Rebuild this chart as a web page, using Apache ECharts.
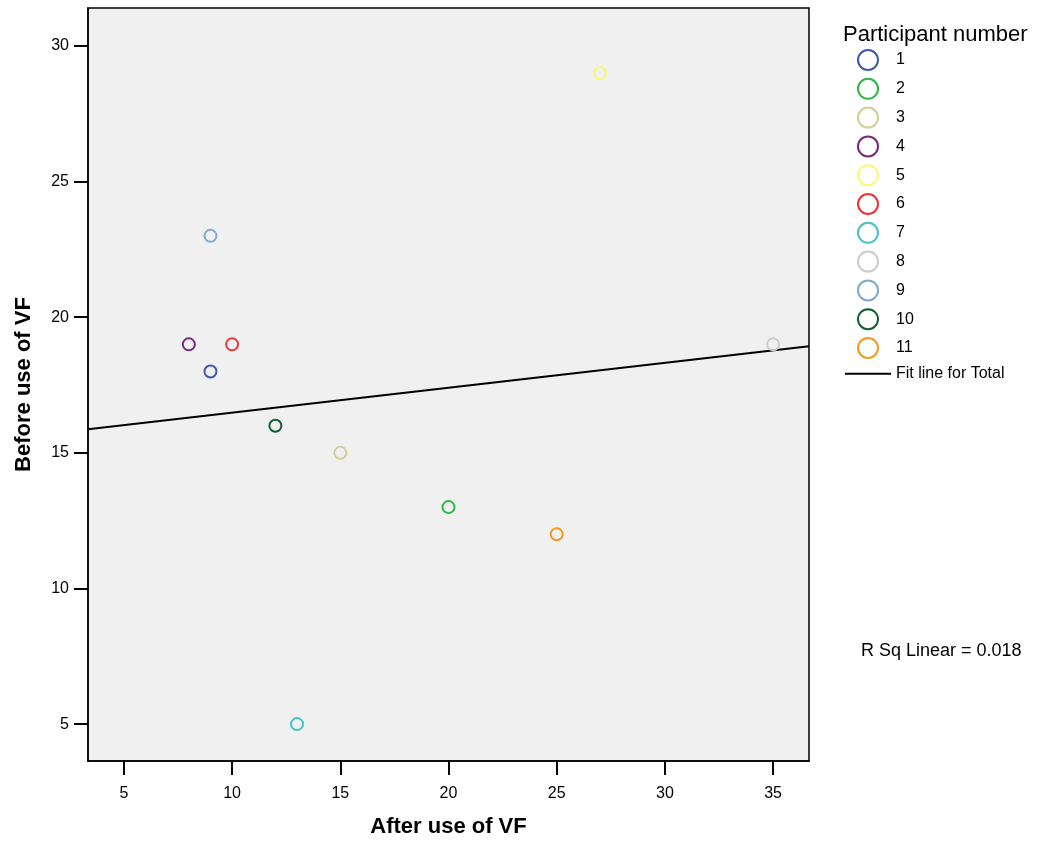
<!DOCTYPE html>
<html>
<head>
<meta charset="utf-8">
<script src="https://cdn.jsdelivr.net/npm/echarts@6/dist/echarts.min.js"></script>
<style>
	html,body{margin:0;padding:0;background:#fff;}
	#main{width:1044px;height:843px;}
</style>
</head>
<body>
<div id="main"></div>
<script type="text/javascript">
	// 数据
	var participants = ['1','2','3','4','5','6','7','8','9','10','11'];
	var after_vf = [9, 20, 15, 8, 27, 10, 13, 35, 9, 12, 25];
	var before_vf = [18, 13, 15, 19, 29, 19, 5, 19, 23, 16, 12];
	var colors = ['#3e58ac','#2eb848','#d3ce97','#7c287d','#fbf873','#ef3338','#48c2c5','#cccccc','#7baad5','#115e31','#f8981d'];
	var x_ticks = [5, 10, 15, 20, 25, 30, 35];
	var y_ticks = [5, 10, 15, 20, 25, 30];

	var x_min = 3.34, x_max = 36.66;
	var y_min = 3.64, y_max = 31.4;

	var font = 'Liberation Sans, Arial, sans-serif';

	// 线性拟合
	function fit(xs, ys){
		var n = xs.length, mx = 0, my = 0;
		xs.forEach(function(v,i){ mx += v; my += ys[i]; });
		mx /= n; my /= n;
		var sxy = 0, sxx = 0, syy = 0;
		xs.forEach(function(v,i){
			sxy += (v-mx)*(ys[i]-my);
			sxx += (v-mx)*(v-mx);
			syy += (ys[i]-my)*(ys[i]-my);
		});
		var b = sxy/sxx;
		return {a:my-b*mx, b:b, r2:sxy*sxy/(sxx*syy)};
	}
	var lin = fit(after_vf, before_vf);

	var series = [];
	participants.forEach(function(name,i){
		series.push({
			name:name,
			type:'scatter',
			symbol:'circle',
			symbolSize:12,
			data:[[after_vf[i], before_vf[i]]],
			itemStyle:{color:'transparent', borderColor:colors[i], borderWidth:2, opacity:1},
			emphasis:{disabled:true}
		});
	});
	series.push({
		name:'Fit line for Total',
		type:'line',
		symbol:'none',
		silent:true,
		data:[[x_min, lin.a+lin.b*x_min],[x_max, lin.a+lin.b*x_max]],
		lineStyle:{color:'#000', width:2},
		itemStyle:{color:'#000'},
		z:1
	});

	var legend_data = participants.map(function(n){ return {name:n}; });
	legend_data.push({name:'Fit line for Total', icon:'path://M0,0 L46,0 L46,2 L0,2 Z', itemStyle:{color:'#000', borderWidth:0}});

	var myChart = echarts.init(document.getElementById('main'));
	var option = {
		animation:false,
		title:[
			{text:'Participant number', left:838, top:19, textStyle:{fontFamily:font, fontSize:22, fontWeight:'normal', color:'#000'}},
			{text:'R Sq Linear = ' + lin.r2.toFixed(3), left:856, top:637, textStyle:{fontFamily:font, fontSize:18, fontWeight:'normal', color:'#000'}}
		],
		legend:{
			orient:'vertical',
			left:840,
			top:44,
			itemWidth:46,
			itemHeight:20,
			itemGap:6.8,
			symbolKeepAspect:true,
			selectedMode:false,
			data:legend_data,
			textStyle:{fontFamily:font, fontSize:16, color:'#000'}
		},
		grid:{
			left:88, right:235, top:8, bottom:81,
			show:true,
			backgroundColor:'#f0f0f0',
			borderColor:'#000',
			borderWidth:1.5
		},
		xAxis:{
			type:'value',
			min:x_min, max:x_max,
			name:'After use of VF',
			nameLocation:'middle',
			nameGap:55,
			nameTextStyle:{fontFamily:font, fontSize:22, fontWeight:'bold', color:'#000'},
			splitLine:{show:false},
			axisLine:{lineStyle:{color:'#000', width:1.5}},
			axisTick:{length:14, lineStyle:{color:'#000', width:2}, customValues:x_ticks},
			axisLabel:{margin:25, fontFamily:font, fontSize:16, color:'#000', customValues:x_ticks}
		},
		yAxis:{
			type:'value',
			min:y_min, max:y_max,
			name:'Before use of VF',
			nameLocation:'middle',
			nameGap:53,
			nameTextStyle:{fontFamily:font, fontSize:22, fontWeight:'bold', color:'#000'},
			splitLine:{show:false},
			axisLine:{lineStyle:{color:'#000', width:1.5}},
			axisTick:{length:14, lineStyle:{color:'#000', width:2}, customValues:y_ticks},
			axisLabel:{margin:19, fontFamily:font, fontSize:16, color:'#000', customValues:y_ticks}
		},
		series:series
	};
	myChart.setOption(option);
</script>
</body>
</html>
